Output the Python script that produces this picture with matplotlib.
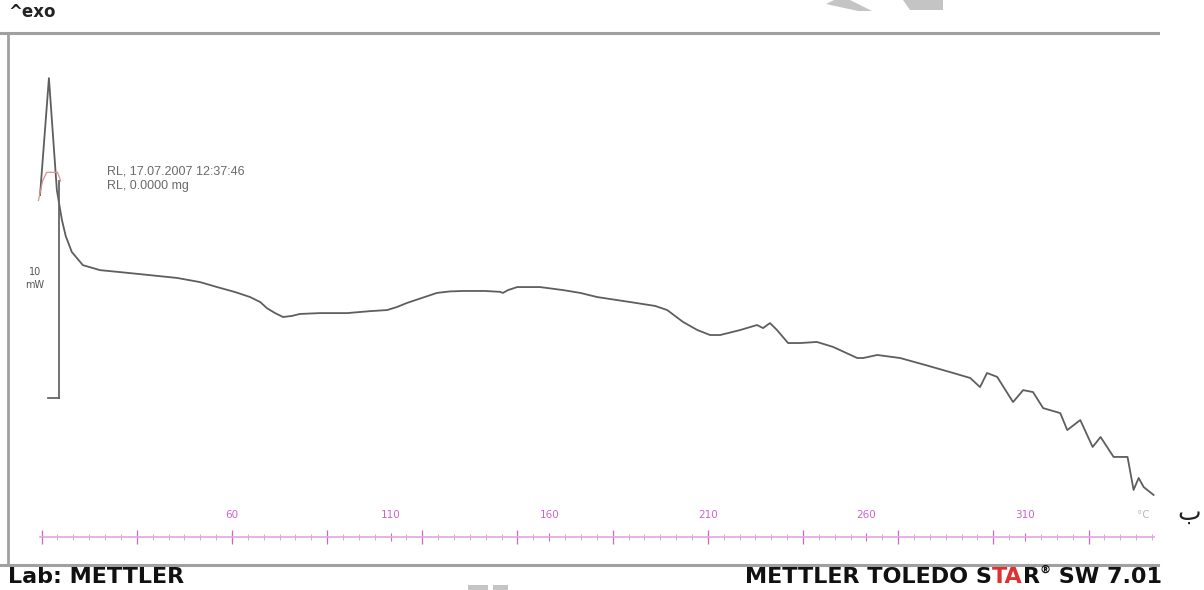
import matplotlib.pyplot as plt
from matplotlib.lines import Line2D
from matplotlib.patches import Polygon

# DSC trace: temperature (°C) against heat flow (mW)
temp = [-0.5, 2.3, 4.8, 6.4, 7.6, 9.5, 13.0, 18.4, 24.7, 34.1, 42.7, 49.9, 55.3,
        61.0, 65.7, 68.9, 71.0, 73.6, 76.1, 78.9, 81.4, 87.7, 96.3, 103.5, 108.9,
        112.0, 115.2, 119.9, 124.6, 128.7, 132.8, 139.8, 144.5, 145.4, 147.0,
        149.9, 157.1, 164.4, 169.8, 175.1, 185.5, 193.4, 197.2, 202.2, 206.7,
        210.7, 213.9, 220.2, 225.5, 227.4, 229.6, 231.8, 235.3, 239.1, 244.4,
        249.5, 257.1, 259.0, 263.4, 270.6, 278.5, 286.4, 292.7, 295.8, 298.0,
        301.2, 306.2, 309.4, 312.5, 315.7, 321.1, 323.3, 327.4, 331.3, 333.8,
        337.9, 342.3, 344.2, 345.8, 347.4, 350.5]
heat_flow = [17.05, 22.44, 17.28, 15.90, 15.16, 14.43, 13.82, 13.59, 13.50, 13.36,
             13.23, 13.04, 12.81, 12.58, 12.35, 12.12, 11.84, 11.61, 11.43, 11.48,
             11.57, 11.61, 11.61, 11.70, 11.75, 11.89, 12.08, 12.31, 12.54, 12.61,
             12.63, 12.63, 12.59, 12.54, 12.67, 12.81, 12.81, 12.67, 12.54, 12.35,
             12.12, 11.94, 11.75, 11.20, 10.83, 10.60, 10.60, 10.83, 11.06, 10.92,
             11.15, 10.83, 10.23, 10.23, 10.28, 10.05, 9.54, 9.54, 9.68, 9.54,
             9.22, 8.89, 8.62, 8.20, 8.85, 8.67, 7.51, 8.06, 7.97, 7.23, 7.00,
             6.22, 6.68, 5.44, 5.90, 4.98, 4.98, 3.46, 4.01, 3.59, 3.23]

# short reference segment at the start of the run
ref_temp = [-1.0, 0.3, 1.6, 5.0, 6.0]
ref_flow = [16.8, 17.7, 18.1, 18.1, 17.7]

scale_temp = 5.5
scale_bottom = 7.7
scale_top = 17.7

axis_ticks = [60, 110, 160, 210, 260, 310]
axis_labels = ['60', '110', '160', '210', '260', '310']
grid_ticks = [0, 30, 60, 90, 120, 150, 180, 210, 240, 270, 300, 330]

W, H = 1204, 590
fig = plt.figure(figsize=(W / 100, H / 100), dpi=100)
ax = fig.add_axes([8 / W, 25 / H, 1150 / W, 532 / H])
ax.set_xlim(-10.6, 351.9)
ax.set_ylim(0, 24.52)
ax.patch.set_alpha(0)

# curves
ax.plot(temp, heat_flow, color='#5e5e5e', lw=1.3, solid_joinstyle='round')
ax.plot(ref_temp, ref_flow, color='#dc9090', lw=0.9)

# 10 mW scale bar
ax.plot([scale_temp, scale_temp], [scale_bottom, scale_top], color='#666666', lw=1.3)
ax.plot([2.0, scale_temp], [scale_bottom, scale_bottom], color='#666666', lw=1.3)
ax.text(-2.1, 13.2, '10\nmW', ha='center', va='center', fontsize=7,
        color='#555555', linespacing=1.3)

ax.text(20.5, 17.8, 'RL, 17.07.2007 12:37:46\nRL, 0.0000 mg', fontsize=9,
        family='Liberation Sans', color='#6a6a6a', va='center', ha='left',
        linespacing=1.2)

# pink temperature axis inside the frame
pink = '#cc66cc'
for s in ['left', 'right', 'bottom']:
    ax.spines[s].set_visible(False)
ax.spines['top'].set_position(('data', 1.29))
ax.spines['top'].set_color('#e2a6e2')
ax.spines['top'].set_linewidth(1.2)
ax.spines['top'].set_bounds(-0.5, 350.5)
ax.xaxis.tick_top()
ax.set_xticks(axis_ticks)
ax.set_xticklabels(axis_labels)
ax.set_xticks(range(0, 351, 5), minor=True)
ax.tick_params(axis='x', which='major', direction='inout', length=6, width=0.8,
               color=pink, labelcolor=pink, labelsize=7.5, pad=9)
ax.tick_params(axis='x', which='minor', direction='inout', length=4, width=0.6,
               color='#d890d8')
ax.set_yticks([])
ax.vlines(grid_ticks, 0.95, 1.63, color=pink, lw=0.9)
ax.text(347.2, 2.3, '°C', fontsize=7.5, color='#bbbbbb', ha='center', va='center')

# outer frame
frame = '#a0a0a0'
fig.add_artist(Line2D([0, 1158 / W], [1 - 33 / H] * 2, color=frame, lw=2.2,
                      transform=fig.transFigure))
fig.add_artist(Line2D([0, 1158 / W], [1 - 565 / H] * 2, color=frame, lw=2.2,
                      transform=fig.transFigure))
fig.add_artist(Line2D([8 / W] * 2, [1 - 565 / H, 1 - 33 / H], color=frame, lw=2,
                      transform=fig.transFigure))

# faint watermark fragments along the edges
def px_poly(pts):
    return Polygon([(x / W, 1 - y / H) for x, y in pts], closed=True,
                   transform=fig.transFigure, color='#c4c4c4', lw=0)

fig.add_artist(px_poly([(826, 4), (834, 0), (850, 0), (872, 11), (858, 11)]))
fig.add_artist(px_poly([(903, 0), (943, 0), (943, 10), (910, 10)]))
fig.add_artist(px_poly([(468, 585), (488, 585), (488, 590), (468, 590)]))
fig.add_artist(px_poly([(493, 585), (508, 585), (508, 590), (493, 590)]))

fig.text(8 / W, 1 - 12 / H, '^exo', fontsize=12, fontweight='bold',
         va='center', ha='left', color='#222222')
fig.text(8 / W, 1 - 577 / H, 'Lab: METTLER', fontsize=16, fontweight='bold',
         va='center', ha='left', color='#111111')

# footer with red "TA"
parts = [('METTLER TOLEDO S', '#111111'), ('TA', '#e03030'),
         ('R', '#111111'), ('®', '#111111'), (' SW 7.01', '#111111')]
fig.canvas.draw()
r = fig.canvas.get_renderer()
x = 1162 / W
for txt, col in reversed(parts):
    size = 8 if txt == '®' else 16
    va = 'bottom' if txt == '®' else 'center'
    y = 1 - 575 / H if txt == '®' else 1 - 577 / H
    t = fig.text(x, y, txt, fontsize=size, fontweight='bold', color=col,
                 ha='right', va=va)
    bb = t.get_window_extent(renderer=r)
    x -= bb.width / W

fig.text(1189 / W, 1 - 513 / H, 'ب', fontsize=18, ha='center', va='center',
         color='#222222')

fig.savefig('out.png', dpi=100)
